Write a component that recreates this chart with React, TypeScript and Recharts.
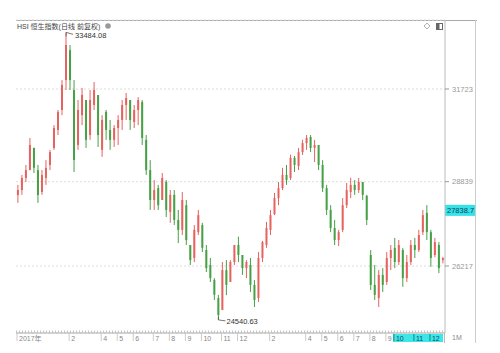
import React from 'react';
import {
  ComposedChart,
  Bar,
  XAxis,
  YAxis,
  CartesianGrid,
  ReferenceLine,
  ReferenceDot,
} from 'recharts';

// HSI daily candles, one bar ~ one week
const opens = [
  28425, 28580, 28955, 29200, 29890, 29200, 28520, 28955, 29360, 29890,
  30450, 31070, 32000, 32930, 31690, 29980, 30910, 31380, 30290, 31225,
  31535, 29830, 31010, 30450, 30140, 30510, 30760, 31225, 31380, 30700,
  31070, 31320, 30140, 29200, 28270, 28640, 28270, 28830, 27900, 28430,
  27650, 27340, 28110, 26870, 26465, 27270, 27490, 26714, 26250, 25780,
  25220, 24850, 26090, 25720, 26340, 26870, 26560, 26150, 26250, 25630,
  25220, 26465, 26870, 27340, 27830, 28330, 28640, 29050, 28955, 29580,
  29330, 29760, 30040, 30230, 29890, 29980, 29360, 28640, 27960, 27400,
  27025, 27340, 28110, 28520, 28740, 28580, 28830, 28400, 26560, 25630,
  25220, 25940, 25720, 26465, 26780, 26340, 26714, 25840, 26340, 26870,
  26714, 27270, 27870, 27270, 26560, 26870, 26400,
];
const highs = [
  28740, 29050, 29360, 30200, 29900, 29360, 29200, 29510, 29830, 30600,
  31070, 32000, 33484.08, 33090, 32000, 31380, 31750, 31380, 31690, 31940,
  31535, 30910, 31070, 30760, 30600, 30910, 31380, 31600, 31380, 31225,
  31470, 31380, 30290, 29510, 28890, 28740, 29110, 28890, 28580, 28580,
  27960, 28520, 28270, 26870, 27490, 27960, 27560, 26870, 26465, 25840,
  25320, 26340, 26400, 26400, 26870, 27130, 26560, 26400, 26465, 25780,
  26650, 27000, 27590, 27960, 28490, 28830, 29270, 29360, 29680, 29640,
  29890, 30140, 30290, 30290, 30140, 29980, 29510, 28740, 28110, 27650,
  27340, 28330, 28800, 28960, 28890, 28955, 28830, 28430, 26714, 26250,
  26090, 26150, 26650, 26870, 27090, 27025, 26780, 26560, 27025, 27090,
  27340, 27960, 28110, 27340, 27090, 26960, 26500,
];
const lows = [
  28180, 28430, 28830, 29200, 29110, 28180, 28430, 28740, 29200, 29830,
  30290, 30910, 31690, 31690, 29140, 29830, 30600, 29890, 30140, 31070,
  29920, 29610, 30140, 29830, 29920, 29980, 30450, 30760, 30450, 30510,
  30600, 29980, 29050, 27960, 27960, 27960, 28270, 27740, 27560, 27490,
  26930, 27180, 26870, 26250, 26340, 27180, 26650, 26030, 25720, 25160,
  24540.63, 24850, 25310, 25720, 26250, 26340, 25940, 25840, 25410, 24940,
  25100, 26340, 26780, 27180, 27800, 28110, 28580, 28740, 28890, 29140,
  29200, 29670, 29830, 29760, 29450, 29200, 28520, 27800, 27270, 26870,
  26840, 27270, 28020, 28330, 28430, 28490, 28270, 27490, 25470, 25160,
  24940, 25410, 25630, 26090, 26150, 26250, 25570, 25720, 26250, 26465,
  26650, 27180, 27025, 26190, 26490, 25995, 26300,
];
const closes = [
  28580, 28955, 29200, 29980, 29270, 28425, 29050, 29270, 29760, 30510,
  31010, 31850, 33090, 32000, 29514, 31070, 31540, 30140, 31380, 31690,
  30290, 30760, 30450, 30140, 30510, 30760, 31225, 31440, 30760, 31070,
  31380, 30200, 29200, 28270, 28580, 28110, 28955, 27960, 28430, 27650,
  27340, 28270, 27025, 26400, 27340, 27800, 26780, 26150, 25840, 25320,
  24690, 26090, 25630, 26340, 26870, 26560, 26150, 26340, 25630, 25160,
  26465, 26960, 27400, 27800, 28330, 28640, 29050, 28890, 29580, 29360,
  29760, 30040, 30200, 29890, 29980, 29360, 28640, 27960, 27400, 27025,
  27270, 28110, 28580, 28740, 28580, 28830, 28430, 27650, 25630, 25320,
  25940, 25630, 26465, 26714, 26340, 26870, 25840, 26340, 26870, 26714,
  27180, 27800, 27270, 26465, 26960, 26150, 26460,
];

const priceTicks = [26217, 28839, 31723];
const lastPrice = 27838.7;
const maxIndex = 12;
const minIndex = 50;

const monthTickIdx = [0, 13, 21, 25, 29, 34, 38, 42, 46, 51, 55, 63, 72, 76, 80, 84, 88, 92, 94, 99, 103];
const monthTickText = ['2017年', '2', '4', '5', '6', '7', '8', '9', '10', '11', '12', '2', '4', '5', '6', '7', '8', '9', '10', '11', '12'];
const highlightFrom = 94;

const UP = '#e6625e';
const DOWN = '#45a046';
const FONT = "'Liberation Sans', 'Noto Sans CJK SC', sans-serif";

const candles = opens.map((o, i) => ({
  i,
  open: o,
  high: highs[i],
  low: lows[i],
  close: closes[i],
}));

const Candle = (props: any) => {
  const { x, y, width, height, payload } = props;
  const { open, close, high, low } = payload;
  const span = high - low || 1;
  const toY = (v: number) => y + ((high - v) / span) * height;
  const color = close >= open ? UP : DOWN;
  const cx = x + width / 2;
  const top = toY(Math.max(open, close));
  const bot = toY(Math.min(open, close));
  const bw = 2;
  return (
    <g>
      <line x1={cx} x2={cx} y1={y} y2={y + height} stroke={color} strokeWidth={1} />
      <rect x={cx - bw / 2} y={top} width={bw} height={Math.max(1, bot - top)} fill={color} />
    </g>
  );
};

const MonthTick = ({ x, y, payload }: any) => {
  const k = monthTickIdx.indexOf(payload.value);
  const hl = payload.value >= highlightFrom;
  return (
    <g>
      <line x1={x - 1} x2={x - 1} y1={y + 1} y2={y + 8} stroke={hl ? '#0a8a8a' : '#ccc'} />
      <text x={x + 1} y={y + 7.5} fontSize={7} fill={hl ? '#0b4d6e' : '#888'} fontFamily={FONT}>
        {monthTickText[k]}
      </text>
    </g>
  );
};

const PriceLabel = (props: any) => {
  const vb = props.viewBox;
  const right = vb.x + vb.width;
  return (
    <g>
      <rect x={right} y={vb.y - 9} width={30} height={11} fill="#33e3e8" />
      <text x={right + 2} y={vb.y - 1} fontSize={7.5} fill="#104060" fontFamily={FONT}>
        {lastPrice}
      </text>
    </g>
  );
};

const HighMark = ({ cx, cy }: any) => (
  <g>
    <path d={`M${cx},${cy + 4} L${cx},${cy} L${cx + 7},${cy + 2}`} stroke="#555" fill="none" strokeWidth={0.8} />
    <text x={cx + 9} y={cy + 6} fontSize={7.5} fill="#333" fontFamily={FONT}>
      {highs[maxIndex]}
    </text>
  </g>
);

const LowMark = ({ cx, cy }: any) => (
  <g>
    <path d={`M${cx},${cy - 3} L${cx},${cy} L${cx + 7},${cy + 1}`} stroke="#555" fill="none" strokeWidth={0.8} />
    <text x={cx + 8} y={cy + 4} fontSize={7.5} fill="#333" fontFamily={FONT}>
      {lows[minIndex]}
    </text>
  </g>
);

export default function App() {
  return (
    <div style={{ position: 'absolute', left: 0, top: 0, width: 500, height: 353, background: '#fff' }}>
      {/* frame, title and icons behind the chart */}
      <svg width={500} height={353} style={{ position: 'absolute', left: 0, top: 0 }}>
        <line x1={16} x2={477} y1={20.5} y2={20.5} stroke="#aaa" />
        <line x1={475.5} x2={475.5} y1={20} y2={343} stroke="#ccc" />
        <line x1={444.5} x2={444.5} y1={333} y2={343} stroke="#bbb" />
        <line x1={16} x2={444} y1={331.5} y2={331.5} stroke="#c4c4c4" strokeDasharray="1 2" strokeWidth={2} />
        <rect x={393} y={334} width={50} height={8} fill="#3ee6e6" />
        <text x={17} y={29} fontSize={7} fill="#444" fontFamily={FONT}>
          HSI 恒生指数(日线 前复权)
        </text>
        <circle cx={108} cy={26} r={2.8} fill="#999" />
        <path d="M427,23 L430,26 L427,29 L424,26 Z" fill="none" stroke="#999" strokeWidth={0.8} />
        <rect x={436.5} y={23.5} width={6} height={6} fill="#fff" stroke="#666" />
        <rect x={437} y={24} width={2.5} height={5} fill="#666" />
        <text x={452} y={340} fontSize={7} fill="#888" fontFamily={FONT}>
          1M
        </text>
      </svg>
      <div style={{ position: 'absolute', left: 0, top: 0 }}>
        <ComposedChart
          width={500}
          height={353}
          data={candles}
          margin={{ top: 20, right: 25, bottom: 0, left: 16 }}
        >
          <CartesianGrid vertical={false} stroke="#ddd" strokeDasharray="2 2" />
          <XAxis
            dataKey="i"
            type="category"
            height={20}
            ticks={monthTickIdx}
            tick={<MonthTick />}
            tickLine={false}
            tickSize={0}
            tickMargin={0}
            interval={0}
            axisLine={{ stroke: '#aaa' }}
          />
          <YAxis
            orientation="right"
            width={30}
            domain={[24133, 33869]}
            allowDataOverflow
            ticks={priceTicks}
            tickSize={4}
            tickMargin={3}
            tickLine={{ stroke: '#999' }}
            axisLine={{ stroke: '#bbb' }}
            tick={{ fontSize: 7.5, fill: '#999', fontFamily: FONT }}
          />
          <Bar
            dataKey={(d: any) => [d.low, d.high]}
            shape={<Candle />}
            isAnimationActive={false}
          />
          <ReferenceLine y={lastPrice} stroke="none" label={<PriceLabel />} />
          <ReferenceDot x={maxIndex} y={highs[maxIndex]} r={0} shape={<HighMark />} />
          <ReferenceDot x={minIndex} y={lows[minIndex]} r={0} shape={<LowMark />} />
        </ComposedChart>
      </div>
    </div>
  );
}
